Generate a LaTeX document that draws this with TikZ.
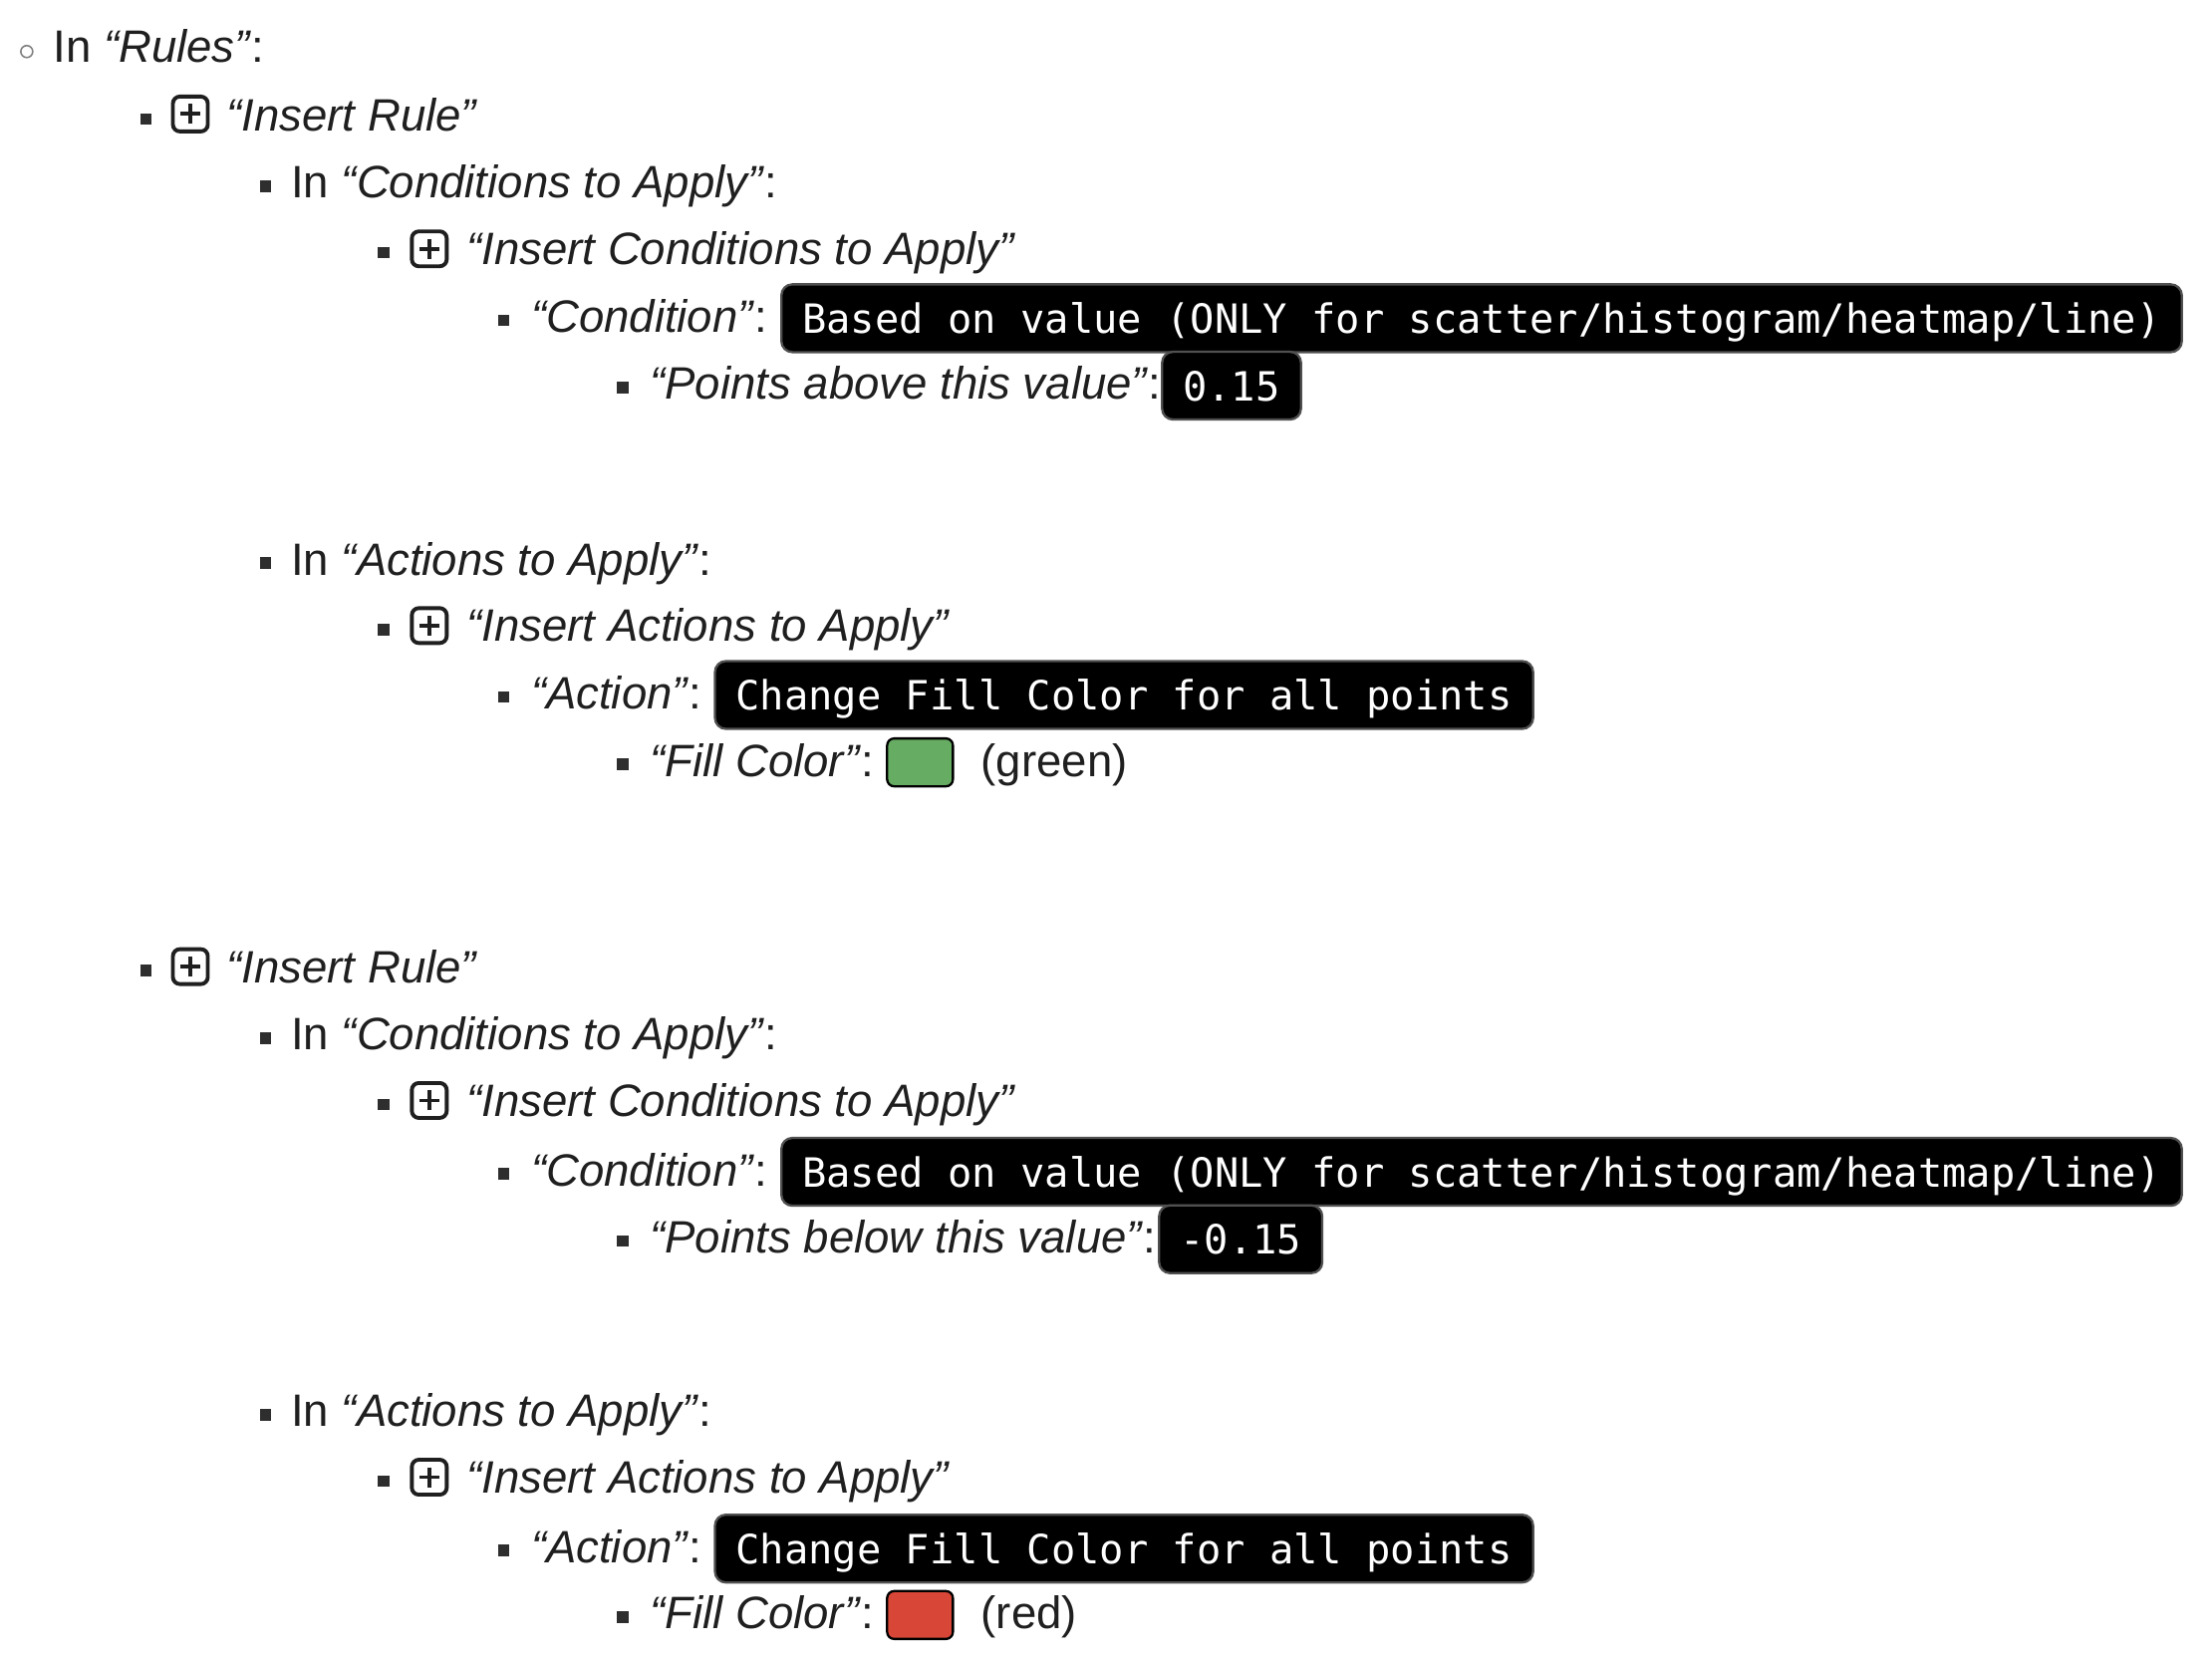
\documentclass[tikz,border=0pt]{standalone}
\usepackage{fontspec}
\setmainfont{Liberation Sans}
\newfontfamily\monofont{DejaVu Sans Mono}
\definecolor{txt}{HTML}{1F1F1F}
\definecolor{bul}{HTML}{2E2E2E}
\definecolor{boxline}{HTML}{505050}
\definecolor{swgreen}{HTML}{67AC63}
\definecolor{swred}{HTML}{D74636}
\newcommand\mainsz{\fontsize{12.95pt}{15pt}\selectfont}
\newcommand\monosz{\monofont\fontsize{11.5pt}{14pt}\selectfont}
\tikzset{
  lbl/.style={anchor=base west, inner sep=0pt, font=\mainsz, text=txt},
  sq/.style={rectangle, fill=bul, minimum size=0.115cm, inner sep=0pt},
  circ/.style={circle, draw=gray, line width=0.45pt, minimum size=0.12cm, inner sep=0pt},
  plusicon/.style={draw=txt, line width=1.1pt, rounded corners=0.07cm, minimum size=0.35cm, inner sep=0pt,
    path picture={\draw[line width=1.1pt, txt]
      ([xshift=-0.1cm]path picture bounding box.center) -- ([xshift=0.1cm]path picture bounding box.center)
      ([yshift=-0.1cm]path picture bounding box.center) -- ([yshift=0.1cm]path picture bounding box.center);}},
  monobox/.style={anchor=west, draw=boxline, fill=black, text=white, line width=0.65pt, rounded corners=0.11cm,
    font=\monosz, inner xsep=0.21cm, inner ysep=0pt, minimum height=0.68cm, text height=0.30cm, text depth=0cm},
  swatch/.style={draw=black, line width=0.65pt, rounded corners=0.07cm, minimum width=0.66cm, minimum height=0.48cm, inner sep=0pt}
}
\begin{document}
\begin{tikzpicture}[x=0.01cm,y=-0.01cm]
\useasboundingbox (0,0) rectangle (2220,1664);
\begin{scope}[scale=0.995]
% Row 1
\node[circ] (b1) at (27,52) {};
\node[lbl] (t1) at (53,63) {In \textit{“Rules”}:};
% Rule 1
\node[sq] (b2) at (147,120) {};
\node[plusicon] (p2) at (192,115) {};
\node[lbl] (t2) at (228,132) {\textit{“Insert Rule”}};
\node[sq] (b3) at (268,188) {};
\node[lbl] (t3) at (293,200) {In \textit{“Conditions to Apply”}:};
\node[sq] (b4) at (387,255) {};
\node[plusicon] (p4) at (433,251) {};
\node[lbl] (t4) at (470,267) {\textit{“Insert Conditions to Apply”}};
\node[sq] (b5) at (508,323) {};
\node[lbl] (t5) at (535,335) {\textit{“Condition”}:};
\node[monobox] (m5) at (787,321) {Based on value (ONLY for scatter/histogram/heatmap/line)};
\node[sq] (b6) at (628,391) {};
\node[lbl] (t6) at (655,403) {\textit{“Points above this value”}:};
\node[monobox] (m6) at (1171,389) {0.15};
\node[sq] (b7) at (268,568) {};
\node[lbl] (t7) at (293,580) {In \textit{“Actions to Apply”}:};
\node[sq] (b8) at (387,635) {};
\node[plusicon] (p8) at (433,631) {};
\node[lbl] (t8) at (470,647) {\textit{“Insert Actions to Apply”}};
\node[sq] (b9) at (508,703) {};
\node[lbl] (t9) at (535,715) {\textit{“Action”}:};
\node[monobox] (m9) at (720,701) {Change Fill Color for all points};
\node[sq] (b10) at (628,771) {};
\node[lbl] (t10) at (655,783) {\textit{“Fill Color”}:};
\node[swatch, fill=swgreen] (s10) at (928,769) {};
\node[lbl] (c10) at (989,783) {(green)};
% Rule 2
\node[sq] (b11) at (147,979) {};
\node[plusicon] (p11) at (192,975) {};
\node[lbl] (t11) at (228,991) {\textit{“Insert Rule”}};
\node[sq] (b12) at (268,1047) {};
\node[lbl] (t12) at (293,1059) {In \textit{“Conditions to Apply”}:};
\node[sq] (b13) at (387,1114) {};
\node[plusicon] (p13) at (433,1110) {};
\node[lbl] (t13) at (470,1126) {\textit{“Insert Conditions to Apply”}};
\node[sq] (b14) at (508,1184) {};
\node[lbl] (t14) at (535,1196) {\textit{“Condition”}:};
\node[monobox] (m14) at (787,1182) {Based on value (ONLY for scatter/histogram/heatmap/line)};
\node[sq] (b15) at (628,1252) {};
\node[lbl] (t15) at (655,1264) {\textit{“Points below this value”}:};
\node[monobox] (m15) at (1168,1250) {-0.15};
\node[sq] (b16) at (268,1427) {};
\node[lbl] (t16) at (293,1439) {In \textit{“Actions to Apply”}:};
\node[sq] (b17) at (387,1494) {};
\node[plusicon] (p17) at (433,1490) {};
\node[lbl] (t17) at (470,1506) {\textit{“Insert Actions to Apply”}};
\node[sq] (b18) at (508,1564) {};
\node[lbl] (t18) at (535,1576) {\textit{“Action”}:};
\node[monobox] (m18) at (720,1562) {Change Fill Color for all points};
\node[sq] (b19) at (628,1631) {};
\node[lbl] (t19) at (655,1643) {\textit{“Fill Color”}:};
\node[swatch, fill=swred] (s19) at (928,1629) {};
\node[lbl] (c19) at (989,1643) {(red)};
\end{scope}
\end{tikzpicture}
\end{document}
